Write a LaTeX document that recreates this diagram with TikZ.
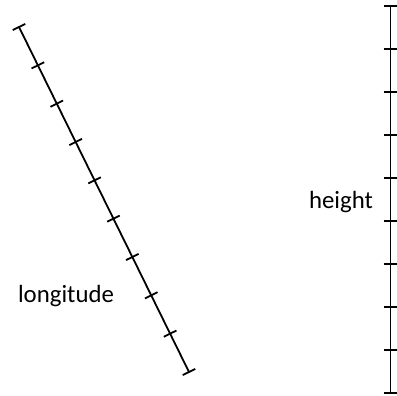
\documentclass[tikz,border=0pt]{standalone}
\usepackage{fontspec}
\setmainfont{Carlito}
\usetikzlibrary{calc}

\begin{document}
\begin{tikzpicture}[
  x=0.5pt, y=-0.5pt,
  axis/.style={line width=0.9pt},
  lbl/.style={font=\fontsize{12.4}{14}\selectfont, inner sep=0pt, anchor=base}
]
  \useasboundingbox (0,0) rectangle (397,396);

  % longitude axis
  \coordinate (lontop) at (19,27);
  \coordinate (lonbot) at (189,372);
  \draw[axis] (lontop) -- (lonbot);
  \foreach \i in {0,...,9}
    \draw[axis] ($(lontop)!\i/9!(lonbot)$) +(-6.3,3.1) -- +(6.3,-3.1);
  \node[lbl] (lonlabel) at (66,302) {longitude};

  % height axis
  \coordinate (htop) at (390.5,6);
  \coordinate (hbot) at (390.5,393);
  \draw[axis] (htop) -- (hbot);
  \foreach \i in {0,...,9}
    \draw[axis] ($(htop)!\i/9!(hbot)$) +(-7,0) -- +(7,0);
  \node[lbl] (hlabel) at (341,208) {height};
\end{tikzpicture}
\end{document}
